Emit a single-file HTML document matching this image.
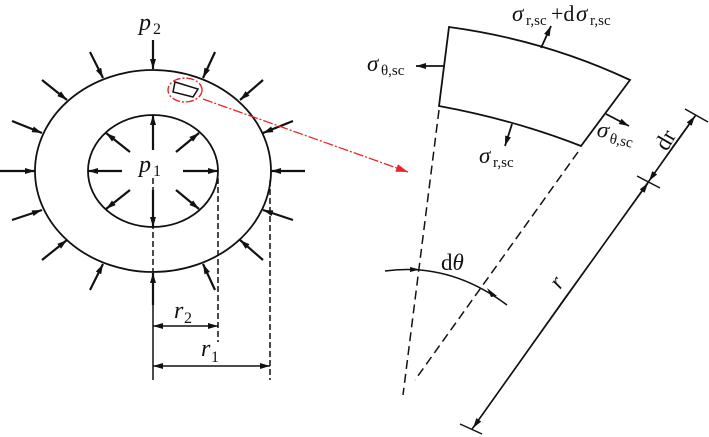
<!DOCTYPE html>
<html><head><meta charset="utf-8"><style>
html,body{margin:0;padding:0;background:#fff;width:709px;height:437px;overflow:hidden}
svg{display:block}
text{font-family:"Liberation Serif",serif;fill:#111}
</style></head><body>
<svg width="709" height="437" viewBox="0 0 709 437" xmlns="http://www.w3.org/2000/svg">
<defs>
<marker id="a" viewBox="0 0 10 6" refX="10" refY="3" markerWidth="11" markerHeight="6" markerUnits="userSpaceOnUse" orient="auto"><path d="M0,0L10,3L0,6z" fill="#111"/></marker>
<marker id="ar" viewBox="0 0 12 8" refX="12" refY="4" markerWidth="13" markerHeight="8" markerUnits="userSpaceOnUse" orient="auto"><path d="M0,0L12,4L0,8z" fill="#e8262b"/></marker>
</defs>
<g stroke="#111" stroke-width="1.8" fill="none">
<ellipse cx="153" cy="171" rx="118" ry="101"/>
<ellipse cx="153" cy="171" rx="65" ry="56"/>
</g>
<g stroke="#111" stroke-width="2.2" marker-end="url(#a)">
<line x1="153" y1="40" x2="153" y2="69"/>
<line x1="153" y1="305" x2="153" y2="273"/>
<line x1="0" y1="171" x2="35" y2="171"/>
<line x1="305" y1="171" x2="271" y2="171"/>
<line x1="90" y1="52" x2="103" y2="78"/>
<line x1="42" y1="80" x2="67" y2="100"/>
<line x1="12" y1="121" x2="42" y2="133"/>
<line x1="12" y1="220" x2="42" y2="210"/>
<line x1="42" y1="260" x2="67" y2="240"/>
<line x1="90" y1="290" x2="103" y2="264"/>
<line x1="215" y1="52" x2="203" y2="78"/>
<line x1="263" y1="80" x2="240" y2="100"/>
<line x1="293" y1="121" x2="263" y2="133"/>
<line x1="293" y1="220" x2="263" y2="210"/>
<line x1="263" y1="260" x2="240" y2="240"/>
<line x1="215" y1="290" x2="203" y2="264"/>
<line x1="153" y1="150" x2="153" y2="115"/>
<line x1="153" y1="190" x2="153" y2="227"/>
<line x1="122" y1="171" x2="88" y2="171"/>
<line x1="183" y1="171" x2="218" y2="171"/>
<line x1="130" y1="152" x2="106" y2="133"/>
<line x1="176" y1="152" x2="199" y2="133"/>
<line x1="130" y1="190" x2="106" y2="209"/>
<line x1="176" y1="190" x2="199" y2="209"/>
</g>
<g stroke="#111" stroke-width="1.5" stroke-dasharray="6,3" fill="none">
<line x1="153" y1="178" x2="153" y2="272"/>
<line x1="218" y1="178" x2="218" y2="342"/>
<line x1="270" y1="180" x2="270" y2="380"/>
</g>
<line x1="153" y1="305" x2="153" y2="380" stroke="#111" stroke-width="1.5"/>
<g stroke="#111" stroke-width="1.4" marker-end="url(#a)">
<line x1="185" y1="326" x2="153" y2="326"/><line x1="185" y1="326" x2="218" y2="326"/>
<line x1="210" y1="366" x2="153" y2="366"/><line x1="210" y1="366" x2="270" y2="366"/>
</g>
<text x="139" y="30" font-size="24" font-style="italic">p</text><text x="153" y="34" font-size="16">2</text>
<text x="139" y="172" font-size="24" font-style="italic">p</text><text x="153" y="176" font-size="16">1</text>
<text x="174" y="318" font-size="24" font-style="italic">r</text><text x="184" y="323" font-size="16">2</text>
<text x="201" y="356" font-size="24" font-style="italic">r</text><text x="211" y="362" font-size="16">1</text>
<ellipse cx="185" cy="90" rx="17" ry="12" stroke="#e8262b" stroke-width="1.4" fill="none" stroke-dasharray="8,2,2,2"/>
<polygon points="175,82 198,89 193,97 173,92" stroke="#111" stroke-width="1.5" fill="none"/>
<line x1="203" y1="99" x2="408" y2="172" stroke="#e8262b" stroke-width="1.3" stroke-dasharray="10,2,2,2" marker-end="url(#ar)"/>
<path d="M449,27 Q545,40 630,80 L581,146 Q515,120 439,106 Z" stroke="#111" stroke-width="1.8" fill="none"/>
<g stroke="#111" stroke-width="1.8" marker-end="url(#a)">
<line x1="541" y1="48" x2="551" y2="26"/>
<line x1="444" y1="66" x2="416" y2="66"/>
<line x1="512" y1="124" x2="505" y2="146"/>
<line x1="606" y1="114" x2="629" y2="126"/>
</g>
<g stroke="#111" stroke-width="1.5" stroke-dasharray="9,5" fill="none">
<line x1="439" y1="110" x2="403" y2="395"/>
<line x1="578" y1="152" x2="415" y2="380"/>
</g>
<path d="M385,271 Q450,262 507,305" stroke="#111" stroke-width="1.5" fill="none"/>
<path d="M410,267 L420,269.5 L410,272z M487,288 L497,296 L491,297z" fill="#111"/>
<text x="441" y="270" font-size="23">d<tspan font-style="italic">θ</tspan></text>
<g stroke="#111" stroke-width="1.5">
<line x1="685" y1="109" x2="708" y2="122"/>
<line x1="637" y1="176" x2="660" y2="188"/>
<line x1="460" y1="424" x2="482" y2="434"/>
<line x1="696" y1="115" x2="472" y2="429"/>
</g>
<g stroke="#111" stroke-width="1.5" marker-end="url(#a)">
<line x1="672" y1="148" x2="695" y2="116"/>
<line x1="672" y1="148" x2="649" y2="181"/>
<line x1="560" y1="305" x2="648" y2="183"/>
<line x1="560" y1="305" x2="473" y2="428"/>
</g>
<text x="0" y="0" font-size="23" transform="translate(667,152) rotate(-60)">dr</text>
<text x="0" y="0" font-size="23" font-style="italic" transform="translate(560,290) rotate(-55)">r</text>
<text x="512" y="21" font-size="23" font-style="italic">σ</text><text x="526" y="25" font-size="15">r,sc</text><text x="551" y="21" font-size="22">+d</text><text x="576" y="21" font-size="23" font-style="italic">σ</text><text x="590" y="25" font-size="15">r,sc</text>
<text x="367" y="71" font-size="23" font-style="italic">σ</text><text x="381" y="75" font-size="15">θ,sc</text>
<text x="479" y="163" font-size="23" font-style="italic">σ</text><text x="493" y="167" font-size="15">r,sc</text>
<g transform="translate(596,136) rotate(12)"><text x="0" y="0" font-size="23" font-style="italic">σ</text><text x="14" y="4" font-size="15">θ,sc</text></g>
</svg>
</body></html>
